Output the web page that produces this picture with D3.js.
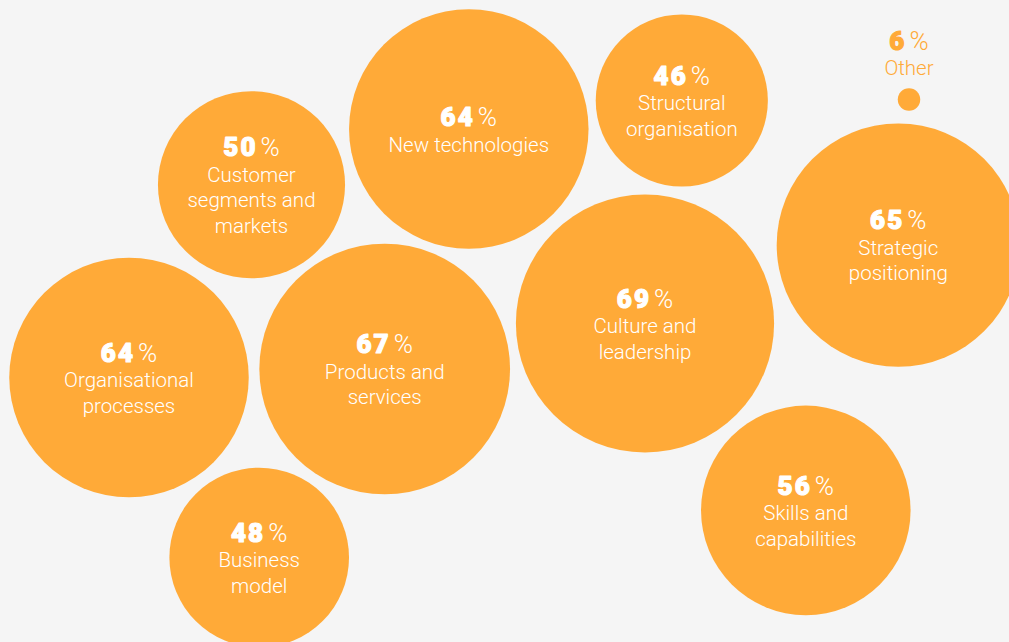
<!DOCTYPE html>
<html>
<head>
<meta charset="utf-8">
<script src="https://cdn.jsdelivr.net/npm/d3@7"></script>
<style>
  html, body { margin: 0; padding: 0; background: #f5f5f5; }
  svg { display: block; }
</style>
</head>
<body>
<svg id="chart"></svg>
<script>
// Share of respondents naming each area (%)
const categories = [
  "New technologies", "Structural organisation", "Other", "Strategic positioning",
  "Customer segments and markets", "Organisational processes", "Products and services",
  "Culture and leadership", "Skills and capabilities", "Business model"
];
const shares = [64, 46, 6, 65, 50, 64, 67, 69, 56, 48];

// How each category name breaks across lines inside its bubble
const labelLines = [
  ["New technologies"], ["Structural", "organisation"], ["Other"], ["Strategic", "positioning"],
  ["Customer", "segments and", "markets"], ["Organisational", "processes"], ["Products and", "services"],
  ["Culture and", "leadership"], ["Skills and", "capabilities"], ["Business", "model"]
];

// Bubble centres in layout units (0–1009 across, 0–642 down)
const centreX = [468.8, 681.8, 909, 898.3, 251.5, 129, 384.7, 645, 805.8, 259.2];
const centreY = [129, 100.5, 99.5, 245.1, 184.7, 377.5, 369, 323.5, 510.4, 557.5];

const W = 1009, H = 642;
const ORANGE = "#ffaa38";
const NUM_FONT = "Roboto, Lato, 'Noto Sans', sans-serif";
const LABEL_FONT = "Roboto, Lato, 'Noto Sans', sans-serif";

const svg = d3.select("#chart").attr("width", W).attr("height", H);
svg.append("rect").attr("width", W).attr("height", H).attr("fill", "#f5f5f5");

const x = d3.scaleLinear().domain([0, 1009]).range([0, W]);
const y = d3.scaleLinear().domain([0, 642]).range([0, H]);
const r = d3.scaleLinear().domain([0, 100]).range([0, 187.1]);

const data = categories.map((c, i) => ({
  name: c, value: shares[i], lines: labelLines[i], cx: centreX[i], cy: centreY[i]
}));

const LINE = 25.6;
const SMALL = 20; // bubbles too small to carry their label get it above

const g = svg.selectAll("g.bubble").data(data).join("g")
  .attr("class", "bubble")
  .attr("transform", d => `translate(${x(d.cx)},${y(d.cy)})`);

g.append("circle")
  .attr("r", d => r(d.value))
  .attr("fill", ORANGE);

g.each(function(d) {
  const sel = d3.select(this);
  const inside = r(d.value) > SMALL;
  const n = 1 + d.lines.length;
  const colour = inside ? "#ffffff" : ORANGE;
  // baseline of each line, block centred on the bubble (or stacked above it)
  const base = i => inside
    ? 9.8 + (i - (n - 1) / 2) * LINE
    : -r(d.value) - 13 - (n - 1 - i) * LINE;

  const pct = sel.append("text")
    .attr("text-anchor", "middle")
    .attr("y", base(0))
    .attr("fill", colour);
  // heavy figure, thickened with a matching outline
  pct.append("tspan")
    .attr("font-family", NUM_FONT)
    .attr("font-weight", 900)
    .attr("font-size", 26)
    .attr("letter-spacing", 2)
    .attr("stroke", colour)
    .attr("stroke-width", 1.1)
    .attr("stroke-linejoin", "round")
    .text(d.value);
  pct.append("tspan")
    .attr("dx", 3)
    .attr("font-family", LABEL_FONT)
    .attr("font-weight", 300)
    .attr("font-size", 26)
    .text("%");

  d.lines.forEach((line, i) => {
    sel.append("text")
      .attr("text-anchor", "middle")
      .attr("y", base(i + 1))
      .attr("fill", colour)
      .attr("font-family", LABEL_FONT)
      .attr("font-weight", 300)
      .attr("font-size", 20.5)
      .text(line);
  });
});
</script>
</body>
</html>
